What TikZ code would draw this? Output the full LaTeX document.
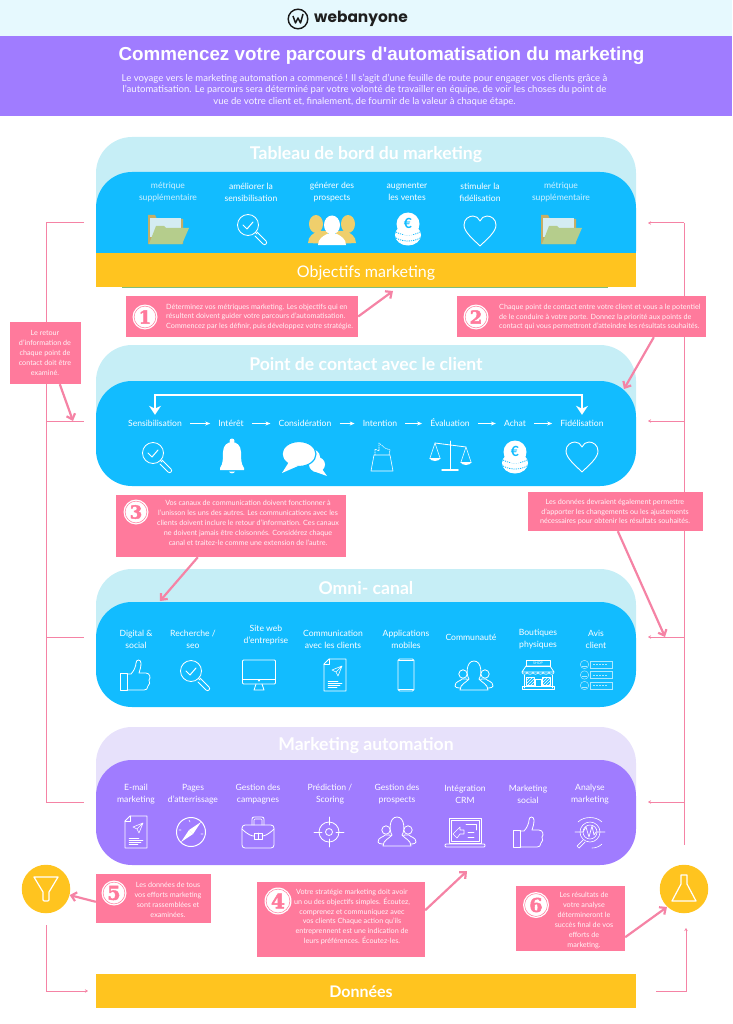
\documentclass[tikz,border=0pt]{standalone}
\usepackage{fontspec}
\usetikzlibrary{arrows.meta,calc,patterns}
\setmainfont{Lato}
\newfontfamily\logofont{Poppins}
\newfontfamily\titlefont{Liberation Sans}
\newfontfamily\numfont{DejaVu Serif}[BoldFeatures={FakeBold=2.5}]
\definecolor{cSky}{HTML}{E6F9FE}
\definecolor{cViolet}{HTML}{A07CFF}
\definecolor{cBlue}{HTML}{12BCFF}
\definecolor{cPale}{HTML}{C6EEF6}
\definecolor{cLilac}{HTML}{E7E1FB}
\definecolor{cGold}{HTML}{FFC41F}
\definecolor{cPink}{HTML}{FF7A9C}
\definecolor{cLine}{HTML}{F583A5}
\definecolor{cTan}{HTML}{C5AE66}
\definecolor{cLeaf}{HTML}{B5CD8C}
\definecolor{cPaper}{HTML}{D4ECF2}
\definecolor{cSand}{HTML}{EFCF6C}
\definecolor{cMoss}{HTML}{7FBE7C}
\newcommand{\fs}[2]{\fontsize{#1}{#2}\selectfont}
\tikzset{
  x=1pt,y=-1pt,
  panel/.style={minimum width=540,rounded corners=36,inner sep=0},
  band/.style={minimum width=540,inner sep=0,fill=cGold},
  head/.style={font=\bfseries\fs{17.6}{18},text=white,inner sep=0},
  lbl/.style={font=\fs{8.6}{12},text=white,align=center,inner sep=0},
  stepn/.style={font=\fs{8.6}{12},text=white,inner sep=0,text height=7,text depth=2},
  pbox/.style={fill=cPink,inner sep=0},
  ptext/.style={font=\fs{7.2}{9.9},text=white!92!cPink,align=center,inner sep=0},
  ptextl/.style={font=\fs{7.2}{9.9},text=white!92!cPink,align=left,inner sep=0},
  badgeo/.style={circle,fill=white,inner sep=0,minimum size=#1},
  num/.style={font=\numfont\bfseries\fs{#1}{#1},text=cPink,inner sep=0},
  spine/.style={draw=cLine,line width=1},
  tick/.style={draw=cLine,line width=1,-{Stealth[length=3,width=3.5]}},
  pinkarrow/.style={draw=cLine,line width=2.2,-{Straight Barb[length=5,width=9]}},
  stepflow/.style={draw=white,line width=.9,-{Stealth[length=5,width=4]},shorten <=8,shorten >=8},
  bigflow/.style={draw=white,line width=1.8,{Stealth[length=9,width=12]}-{Stealth[length=9,width=12]},shorten <=4,shorten >=4},
  ic/.style={draw=white,line width=.8,line join=round,line cap=round},
  pics/folder/.style={code={
    \fill[cTan] (-20,15) -- (-20,-14) -- (-13,-14) -- (-11,-10) -- (15,-10) -- (15,15) -- cycle;
    \fill[cPaper] (-18,-11) rectangle (13,8);
    \fill[cLeaf] (-19,15) -- (-12,-3) -- (-4,-3) -- (-2,-1) -- (21,-1) -- (14,15) -- cycle;
  }},
  pics/lens/.style={code={
    \draw[ic] (-4,-4) circle (10.5);
    \draw[ic,line width=1] (-9,-4) -- (-5,0) -- (1,-7);
    \draw[ic] (3.5,3.5) -- (5,5);
    \draw[ic] (5,3) -- (14,12) .. controls (16,14) and (13,17) .. (11,15) -- (3,7);
  }},
  pics/trio/.style={code={
    \fill[cSand] (-16,-6) ellipse (7 and 9);
    \fill[cSand] (16,-6) ellipse (7 and 9);
    \fill[cSand] (-24,13) .. controls (-24,6) and (-18,3) .. (-14,1) -- (-4,1) -- (-4,14) -- cycle;
    \fill[cSand] (24,13) .. controls (24,6) and (18,3) .. (14,1) -- (4,1) -- (4,14) -- cycle;
    \fill[white] (0,-5) ellipse (8 and 9.5);
    \fill[white] (-14,15) .. controls (-14,9) and (-9,6) .. (-5,4) -- (5,4) .. controls (9,6) and (14,9) .. (14,15) -- cycle;
  }},
  pics/coins/.style={code={
    \fill[white] (0,6) ellipse (13 and 10.5);
    \draw[cBlue,line width=.8,dash pattern=on 1.2 off 1] (-12,3) .. controls (-5,7) and (5,7) .. (12,3);
    \draw[cBlue,line width=.8,dash pattern=on 1.2 off 1] (-12,9) .. controls (-5,13) and (5,13) .. (12,9);
    \fill[white] (0,-5) circle (11.5);
    \node (euro) at (0,-5.5) [inner sep=0,text=cBlue,font=\bfseries\fs{14}{14}] {€};
  }},
  pics/hearticon/.style={code={
    \draw[ic,line width=.9] (0,15) .. controls (-7,8) and (-16,1) .. (-16,-6) .. controls (-16,-12) and (-11,-15) .. (-7,-15) .. controls (-4,-15) and (-1,-13) .. (0,-10) .. controls (1,-13) and (4,-15) .. (7,-15) .. controls (11,-15) and (16,-12) .. (16,-6) .. controls (16,1) and (7,8) .. (0,15) -- cycle;
  }},
  pics/bell/.style={code={
    \fill[white] (0,-15) circle (2.5);
    \fill[white] (-12,12) .. controls (-9,8) and (-9,3) .. (-9,-4) .. controls (-9,-11) and (-4,-14) .. (0,-14) .. controls (4,-14) and (9,-11) .. (9,-4) .. controls (9,3) and (9,8) .. (12,12) -- (12,14) -- (-12,14) -- cycle;
    \fill[white] (-3,15.5) -- (3,15.5) .. controls (2,18) and (-2,18) .. (-3,15.5) -- cycle;
  }},
  pics/speech/.style={code={
    \fill[white] (6,-2) ellipse (9 and 8);
    \fill[white] (12,3) -- (22,17) -- (8,12) -- cycle;
    \fill[white] (12,5.5) ellipse (8 and 7.5);
    \fill[white,draw=cBlue,line width=1.2] (-6,-5) ellipse (17 and 12.5);
    \fill[white] (-16,3) -- (-23,14) -- (-7,7) -- cycle;
  }},
  pics/bag/.style={code={
    \draw[ic,line width=.6] (-8,-2) -- (8,-2) -- (11,14) -- (-11,14) -- cycle;
    \draw[ic,line width=.6,dash pattern=on 1.2 off 1] (-7,-2) -- (-7,-8) -- (-3,-6) -- (-3,-14) -- (3,-9) -- (8,-7) -- (7,-2);
  }},
  pics/scales/.style={code={
    \draw[ic,line width=1] (0,-15) -- (0,13);
    \draw[ic,line width=1.5] (-8,14) -- (8,14);
    \draw[ic] (-15,-13) -- (16,-9);
    \draw[ic,line width=.6] (-15,-13) -- (-20,2) (-15,-13) -- (-10,2);
    \draw[ic,line width=.6] (16,-9) -- (11,6) (16,-9) -- (21,6);
    \fill[white] (-21,2) .. controls (-18,6) and (-12,6) .. (-9,2) -- cycle;
    \fill[white] (10,6) .. controls (13,10) and (19,10) .. (22,6) -- cycle;
  }},
  pics/thumb/.style={code={
    \draw[ic] (-15,-2) rectangle (-8,15);
    \draw[ic] (-8,-1) -- (-4,-1) .. controls (-1,-4) and (1,-9) .. (1,-12) .. controls (1,-16) and (6,-16) .. (6,-12) .. controls (6,-8) and (5,-5) .. (4,-2) -- (11,-2) .. controls (15,-2) and (16,3) .. (14,5) .. controls (15,7) and (15,10) .. (13,11) .. controls (13,14) and (11,15) .. (9,15) -- (-8,15);
  }},
  pics/monitor/.style={code={
    \draw[ic,rounded corners=1] (-16.5,-15) rectangle (16.5,9);
    \draw[ic] (-16.5,4) -- (16.5,4);
    \draw[ic] (-3,9) -- (-5,15) -- (5,15) -- (3,9);
    \draw[ic,line width=.6] (0,5.5) circle (.8);
  }},
  pics/docplane/.style={code={
    \draw[ic] (-6,-16) -- (11,-16) -- (11,16) -- (-11,16) -- (-11,-11) -- cycle;
    \draw[ic] (-6,-16) -- (-6,-11) -- (-11,-11);
    \draw[ic,line width=.6] (-3,-5) -- (7,-9) -- (3,1) -- (1,-3) -- cycle (1,-3) -- (7,-9);
    \draw[ic,line width=.5] (-7,6) -- (3,6) (-7,8) -- (7,8) (-7,10) -- (5,10) (-7,12) -- (2,12);
  }},
  pics/phone/.style={code={
    \draw[ic,rounded corners=1.5] (-8,-16) rectangle (8,16);
    \draw[ic,line width=1.6] (-7,-14.5) -- (7,-14.5) (-7,14.5) -- (7,14.5);
  }},
  pics/crowd/.style={code={
    \draw[ic,fill=#1] (-11,-1) circle (4.2);
    \draw[ic,fill=#1] (11,-1) circle (4.2);
    \draw[ic,fill=#1] (-19,11) .. controls (-19,6) and (-13,6) .. (-12,4) -- (-7,4) -- (-5,13) -- (-15,13) .. controls (-17,13) and (-19,12) .. (-19,11) -- cycle;
    \draw[ic,fill=#1] (19,11) .. controls (19,6) and (13,6) .. (12,4) -- (7,4) -- (5,13) -- (15,13) .. controls (17,13) and (19,12) .. (19,11) -- cycle;
    \draw[ic,fill=#1] (-14,15) .. controls (-14,9) and (-7,7) .. (-5,4) .. controls (-8,0) and (-8,-14) .. (0,-14) .. controls (8,-14) and (8,0) .. (5,4) .. controls (7,7) and (14,9) .. (14,15) -- cycle;
  }},
  pics/shop/.style={code={
    \draw[ic,line width=.6] (-12,-15) rectangle (12,-9);
    \node (shoptag) at (0,-12) [inner sep=0,text=white,font=\fs{3.6}{4}] {SHOP};
    \draw[ic] (-12,-9) -- (12,-9) -- (16,-3) -- (-16,-3) -- cycle;
    \draw[ic,line width=.6] (-16,-3) .. controls (-16,0) and (-11,0) .. (-11,-3) .. controls (-11,0) and (-5,0) .. (-5,-3) .. controls (-5,0) and (0,0) .. (0,-3) .. controls (0,0) and (5,0) .. (5,-3) .. controls (5,0) and (11,0) .. (11,-3) .. controls (11,0) and (16,0) .. (16,-3);
    \draw[ic,line width=.6] (-14,0) -- (-14,13) (14,0) -- (14,13);
    \draw[ic,line width=.5,pattern=north east lines,pattern color=white] (-12,2) rectangle (-4,10);
    \draw[ic,line width=.5,pattern=north east lines,pattern color=white] (4,2) rectangle (12,10);
    \draw[ic,line width=.6] (-3,11) -- (-3,4) -- (3,4) -- (3,11);
    \draw[ic] (-16,11) rectangle (16,14.5);
  }},
  pics/review/.style={code={
    \foreach \ry in {-10.5,0,10.5}{
      \draw[draw=white!65!cBlue,line width=.5] (-11.5,\ry) circle (4.2);
      \draw[draw=white!65!cBlue,line width=.5] (-14,\ry+1.5) -- (-9,\ry+1.5);
      \draw[draw=white!65!cBlue,line width=.5] (-6,\ry-3.5) rectangle (16,\ry+3.5);
      \draw[draw=white!65!cBlue,line width=.5,dash pattern=on 2 off 1] (-3,\ry) -- (12,\ry);
    }
  }},
  pics/compassicon/.style={code={
    \draw[ic,line width=1] (0,0) circle (14.5);
    \fill[white] (10,-10) -- (2,2) -- (-2,-2) -- cycle;
    \fill[white] (-10,10) -- (-2,-2) -- (2,2) -- cycle;
    \draw[ic,line width=.6] (-2,-12) -- (-1,-10) (12,2) -- (10,2) (-12,-2) -- (-10,-2);
  }},
  pics/briefcase/.style={code={
    \draw[ic,rounded corners=3] (-16,-7) rectangle (16,16);
    \draw[ic,rounded corners=2] (-6,-7) -- (-6,-15) -- (6,-15) -- (6,-7);
    \draw[ic,line width=.6,rounded corners=1] (-4,-7) -- (-4,-13) -- (4,-13) -- (4,-7);
    \draw[ic] (-16,-3) .. controls (-10,3) and (-6,4) .. (-4,4) (4,4) .. controls (6,4) and (10,3) .. (16,-3);
    \draw[ic] (-4,1) rectangle (4,7);
    \draw[ic,line width=.6] (0,1) -- (0,7);
  }},
  pics/targeticon/.style={code={
    \draw[ic] (0,0) circle (10);
    \draw[ic] (0,0) circle (3.5);
    \draw[ic] (0,-15) -- (0,-7) (0,15) -- (0,7) (-15,0) -- (-7,0) (15,0) -- (7,0);
  }},
  pics/crm/.style={code={
    \draw[ic] (-16,-15) rectangle (16,10);
    \draw[ic,line width=.6] (-14,-13) rectangle (14,8);
    \draw[ic,rounded corners=1] (-20,11) -- (20,11) -- (20,14) -- (-20,14) -- cycle;
    \draw[ic,line width=.6] (-12,1) -- (-5,-6) -- (-5,-3) -- (-1,-3) -- (-1,1) -- (-5,1) -- (-8,5) -- cycle;
    \draw[ic,line width=.6] (1,-9) -- (11,-9) -- (11,-3) (3,-1) -- (9,-1) (3,4) -- (9,4);
  }},
  pics/analysis/.style={code={
    \draw[ic,line width=.6] (0,0) circle (10);
    \draw[ic,line width=.6] (0,0) circle (7);
    \draw[ic,line width=.7] (-15,0) -- (-7,0) -- (-4,-5) -- (-1,5) -- (2,-6) -- (4,3) -- (6,0) -- (15,0);
    \draw[ic,line width=.6] (-12,-10) .. controls (-6,-16) and (6,-16) .. (12,-10);
    \draw[ic,line width=.6] (12,12) .. controls (9,15) and (5,16) .. (2,16);
    \draw[ic,line width=.7] (-7,8) -- (-13,14) -- (-11,16) -- (-5,10);
  }},
  pics/funnel/.style={code={
    \draw[white,line width=1.2,line join=round,line cap=round] (-12,-11) -- (12,-11) -- (3,4) -- (3,12) .. controls (3,13.5) and (-3,13.5) .. (-3,12) -- (-3,4) -- cycle;
  }},
  pics/flask/.style={code={
    \draw[white,line width=1.2,line join=round,line cap=round] (-3,-14) -- (3,-14) -- (3,-5) -- (12,12) -- (-12,12) -- (-3,-5) -- cycle;
  }},
  pics/logoicon/.style={code={
    \draw[black!90,line width=1.4] (0,0) circle (9.8);
    \draw[black!90,line width=1.5,line join=round] (-5,-3) -- (-2.5,4) -- (0,-1) -- (2.5,4) -- (5,-5);
  }},
}
\begin{document}
\begin{tikzpicture}
\useasboundingbox (0,0) rectangle (732,1024);
% top bars
\fill[cSky] (0,0) rectangle (732,36);
\fill[cViolet] (0,36) rectangle (732,116);
\pic at (298,19) {logoicon};
\node (logotext) at (361,18.5) [inner sep=0,text=black!88,font=\logofont\bfseries\fs{15.4}{16}] {webanyone};
\node (title) at (381.5,56) [inner sep=0,text=white,font=\titlefont\bfseries\fs{18.8}{20}] {Commencez votre parcours d'automatisation du marketing};
\node (intro) at (364.5,90) [inner sep=0,align=center,text=white!92!cViolet,font=\fs{9.55}{11.4}] {Le voyage vers le marketing automation a commencé ! Il s'agit d'une feuille de route pour engager vos clients grâce à\\l'automatisation. Le parcours sera déterminé par votre volonté de travailler en équipe, de voir les choses du point de\\vue de votre client et, finalement, de fournir de la valeur à chaque étape.};
% panels
\node (pa0) at (366,187) [panel,fill=cPale,minimum height=100] {};
\node (pa1) at (366,229.5) [panel,fill=cBlue,minimum height=115] {};
\node (pa2) at (366,270) [band,minimum height=33.5] {};
\coordinate (ga) at (122,287); \coordinate (gb) at (608,287);
\draw[cMoss,line width=.8] (ga) -- (gb);
\node (pb0) at (366,395) [panel,fill=cPale,minimum height=100] {};
\node (pb1) at (366,433.5) [panel,fill=cBlue,minimum height=105] {};
\node (pc0) at (366,619) [panel,fill=cPale,minimum height=100] {};
\node (pc1) at (366,654.5) [panel,fill=cBlue,minimum height=105] {};
\node (pd0) at (366,777) [panel,fill=cLilac,minimum height=100] {};
\node (pd1) at (366,812.5) [panel,fill=cViolet,minimum height=105] {};
\node (data) at (366,991) [band,minimum height=34] {};
% headings
\node (h1) at (366,155) [head] {Tableau de bord du marketing};
\node (h1b) at (366,273) [inner sep=0,text=white,font=\fs{16}{18}] {Objectifs marketing};
\node (h2) at (366,364) [head] {Point de contact avec le client};
\node (h3) at (366,588) [head] {Omni- canal};
\node (h4) at (366,746) [head] {Marketing automation};
\node (h5) at (361,992) [inner sep=0,text=white,font=\bfseries\fs{16}{18}] {Données};
% panel 1
\node (a1) at (168,192) [lbl,text=white!80!cBlue] {métrique\\supplémentaire};
\node (a2) at (251,192) [lbl] {améliorer la\\sensibilisation};
\node (a3) at (332,192) [lbl] {générer des\\prospects};
\node (a4) at (407,192) [lbl] {augmenter\\les ventes};
\node (a5) at (480,192) [lbl] {stimuler la\\fidélisation};
\node (a6) at (561,192) [lbl,text=white!80!cBlue] {métrique\\supplémentaire};
\pic at (168,229) {folder};
\pic at (252,229) {lens};
\pic at (332,230) {trio};
\pic at (408,229) {coins};
\pic at (480,231) {hearticon};
\pic at (561,229) {folder};
% panel 2
\node (s1) at (155,423.5) [stepn] {Sensibilisation};
\node (s2) at (231,423.5) [stepn] {Intérêt};
\node (s3) at (305,423.5) [stepn] {Considération};
\node (s4) at (380,423.5) [stepn] {Intention};
\node (s5) at (450,423.5) [stepn] {Évaluation};
\node (s6) at (515,423.5) [stepn] {Achat};
\node (s7) at (582,423.5) [stepn] {Fidélisation};
\foreach \u/\v in {s1/s2,s2/s3,s3/s4,s4/s5,s5/s6,s6/s7}{\draw[stepflow] (\u.east) -- (\v.west);}
\coordinate (utop) at (366,395);
\draw[bigflow] (s1.north) |- (utop) -| (s7.north);
\pic at (157,457) {lens};
\pic at (232,456) {bell};
\pic at (305,459) {speech};
\pic at (382,457) {bag};
\pic at (450,456) {scales};
\pic at (515,457) {coins};
\pic at (582,457) {hearticon};
% panel 3
\node (c1) at (136,639) [lbl] {Digital \&\\social};
\node (c2) at (193,639) [lbl] {Recherche /\\seo};
\node (c3) at (266,635) [lbl] {Site web\\d'entreprise};
\node (c4) at (333,639) [lbl] {Communication\\avec les clients};
\node (c5) at (406,639) [lbl] {Applications\\mobiles};
\node (c6) at (471,637) [lbl] {Communauté};
\node (c7) at (538,639) [lbl] {Boutiques\\physiques};
\node (c8) at (596,639) [lbl] {Avis\\client};
\pic at (135,675) {thumb};
\pic at (195,675) {lens};
\pic at (259,675) {monitor};
\pic at (335,675) {docplane};
\pic at (406,675) {phone};
\pic at (474,675) {crowd=cBlue};
\pic at (538,675) {shop};
\pic at (596,675) {review};
% panel 4
\node (d1) at (136,794) [lbl] {E-mail\\marketing};
\node (d2) at (193,794) [lbl] {Pages\\d'atterrissage};
\node (d3) at (258,794) [lbl] {Gestion des\\campagnes};
\node (d4) at (330,794) [lbl] {Prédiction /\\Scoring};
\node (d5) at (397,794) [lbl] {Gestion des\\prospects};
\node (d6) at (465,794) [lbl] {Intégration\\CRM};
\node (d7) at (528,794) [lbl] {Marketing\\social};
\node (d8) at (590,794) [lbl] {Analyse\\marketing};
\pic at (136,832) {docplane};
\pic at (191,832) {compassicon};
\pic at (258,832) {briefcase};
\pic at (329,832) {targeticon};
\pic at (397,831) {crowd=cViolet};
\pic at (465,833) {crm};
\pic at (528,832) {thumb};
\pic at (590,832) {analysis};
% spines
\coordinate (L1) at (84,223); \coordinate (L2) at (84,421); \coordinate (L3) at (84,637); \coordinate (L4) at (84,802);
\coordinate (L0) at (46,223); \coordinate (Lb) at (46,802);
\draw[spine] (L1) -- (L0) -- (Lb) -- (L4);
\draw[spine] (L2 -| L0) -- (L2);
\draw[spine] (L3 -| L0) -- (L3);
\coordinate (R0) at (684,223); \coordinate (Rb) at (684,845);
\coordinate (R1) at (648,223); \coordinate (R2) at (648,421); \coordinate (R3) at (648,637); \coordinate (R4) at (648,802);
\draw[spine] (R0) -- (Rb);
\draw[tick] (R0) -- (R1);
\draw[tick] (R2 -| R0) -- (R2);
\draw[tick] (R3 -| R0) -- (R3);
\draw[tick] (R4 -| R0) -- (R4);
\coordinate (Ba) at (46,925); \coordinate (Bb) at (46,991); \coordinate (Bc) at (88,991);
\draw[tick] (Ba) -- (Bb) -- (Bc);
\coordinate (Bd) at (656,991); \coordinate (Be) at (686,991); \coordinate (Bf) at (686,928);
\draw[tick] (Bd) -- (Be) -- (Bf);
% end discs
\node (fun) at (46,889) [circle,fill=cGold,minimum size=48.5,inner sep=0] {};
\node (fla) at (684,889) [circle,fill=cGold,minimum size=48.5,inner sep=0] {};
\pic at (46,888) {funnel};
\pic at (684,889) {flask};
% pink boxes
\node (b1) at (242,316.5) [pbox,minimum width=232,minimum height=41] {};
\node (b2) at (581.5,316.5) [pbox,minimum width=249,minimum height=41] {};
\node (b3) at (231,526) [pbox,minimum width=230,minimum height=62] {};
\node (b4) at (341,919.5) [pbox,minimum width=168,minimum height=75] {};
\node (b5) at (153.5,898.5) [pbox,minimum width=115,minimum height=49] {};
\node (b6) at (570.5,918.5) [pbox,minimum width=109,minimum height=65] {};
\node (br) at (615.5,511.5) [pbox,minimum width=175,minimum height=39] {};
\node (bl) at (45.5,353) [pbox,minimum width=71,minimum height=62] {};
\node (t1) at (166,317) [ptextl,anchor=west] {Déterminez vos métriques marketing. Les objectifs qui en\\résultent doivent guider votre parcours d'automatisation.\\Commencez par les définir, puis développez votre stratégie.};
\node (t2) at (499,317) [ptextl,anchor=west] {Chaque point de contact entre votre client et vous a le potentiel\\de le conduire à votre porte. Donnez la priorité aux points de\\contact qui vous permettront d'atteindre les résultats souhaités.};
\node (t3) at (248,523) [ptext] {Vos canaux de communication doivent fonctionner à\\l'unisson les uns des autres. Les communications avec les\\clients doivent inclure le retour d'information. Ces canaux\\ne doivent jamais être cloisonnés. Considérez chaque\\canal et traitez-le comme une extension de l'autre.};
\node (t4) at (352,917) [ptext] {Votre stratégie marketing doit avoir\\un ou des objectifs simples. Écoutez,\\comprenez et communiquez avec\\vos clients Chaque action qu'ils\\entreprennent est une indication de\\leurs préférences. Écoutez-les.};
\node (t5) at (168,900) [ptext] {Les données de tous\\vos efforts marketing\\sont rassemblées et\\examinées.};
\node (t6) at (584,920.5) [ptext] {Les résultats de\\votre analyse\\détermineront le\\succès final de vos\\efforts de\\marketing.};
\node (tr) at (615,512) [ptext] {Les données devraient également permettre\\d'apporter les changements ou les ajustements\\nécessaires pour obtenir les résultats souhaités.};
\node (tl) at (45,353) [ptext] {Le retour\\d'information de\\chaque point de\\contact doit être\\examiné.};
% badges
\foreach \n/\x/\y/\r/\f in {1/145/317/25/18,2/476/317/25/18,3/136/512/25/18,4/278/901/27/20,5/114/893/25/19,6/536/905/26/19}{
  \node (bo\n) at (\x,\y) [badgeo=\r] {};
  \draw[cPink,line width=.5] (\x,\y) circle (\r/2-1.6);
  \node (nu\n) at (\x,\y) [num=\f] {\n};
}
% pink arrows
\coordinate (e1) at (393,291);
\draw[pinkarrow] (b1.east) -- (e1);
\coordinate (e2) at (624,389);
\draw[pinkarrow] ($(b2.south west)+(197,0)$) -- (e2);
\coordinate (e3) at (160,601);
\draw[pinkarrow] ($(b3.south west)+(82,0)$) -- (e3);
\coordinate (er) at (665,637);
\draw[pinkarrow] ($(br.south west)+(90,0)$) -- (er);
\coordinate (el) at (73,421);
\draw[pinkarrow] ($(bl.south west)+(50,0)$) -- (el);
\coordinate (e4) at (467,871);
\draw[pinkarrow] ($(b4.south east)+(0,-47)$) -- (e4);
\draw[pinkarrow] ($(b5.north west)+(0,28)$) -- (fun);
\coordinate (e6) at (667,907);
\draw[pinkarrow] ($(b6.south east)+(0,-14)$) -- (e6);
\end{tikzpicture}
\end{document}
